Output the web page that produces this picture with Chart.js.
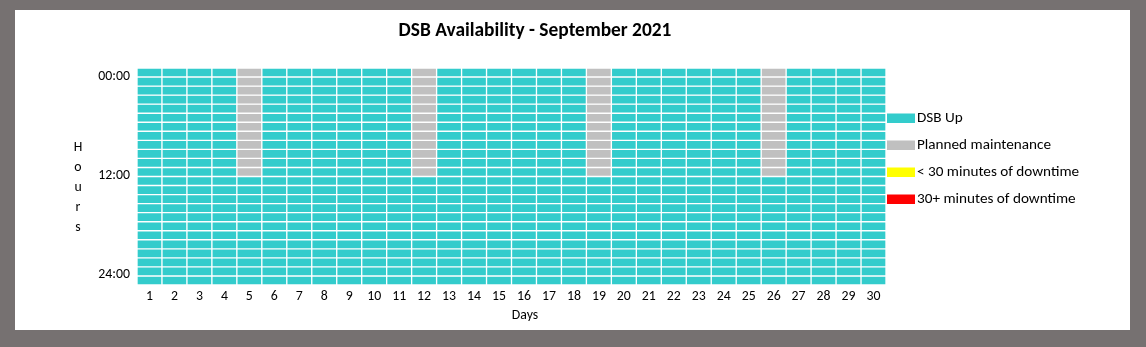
<!DOCTYPE html>
<html><head><meta charset="utf-8">
<script src="https://cdn.jsdelivr.net/npm/chart.js@4.4.0/dist/chart.umd.min.js"></script>
<style>html,body{margin:0;padding:0;background:#767171;overflow:hidden}#wrap{position:absolute;left:0;top:0;width:1146px;height:347px}</style>
</head><body><div id="wrap"><canvas id="c" width="1146" height="347"></canvas></div>
<script>
// ---- data ----
const days = ['1','2','3','4','5','6','7','8','9','10','11','12','13','14','15','16','17','18','19','20','21','22','23','24','25','26','27','28','29','30'];
const hours = [0,1,2,3,4,5,6,7,8,9,10,11,12,13,14,15,16,17,18,19,20,21,22,23];
const maintenanceDays = [5,12,19,26];
const maintenanceStartHour = [0,0,0,0];
const maintenanceEndHour = [12,12,12,12];
const shortDowntime = [];   // [day, hour] pairs: < 30 minutes
const longDowntime = [];    // [day, hour] pairs: 30+ minutes
const yTickLabels = ['00:00','12:00','24:00'];
const yTickValues = [0.9, 11.95, 22.9];
const legendLabels = ['DSB Up','Planned maintenance','< 30 minutes of downtime','30+ minutes of downtime'];
const legendColors = ['#33CCCC','#C0C0C0','#FFFF00','#FF0000'];
const titleText = 'DSB Availability - September 2021';
const xTitle = 'Days';
const yTitle = 'Hours';

// ---- build ----
const FONT = "Carlito, Calibri, Lato, 'Open Sans', sans-serif";
function statusColor(day, hour){
  for (const p of longDowntime) if (p[0]===day && p[1]===hour) return legendColors[3];
  for (const p of shortDowntime) if (p[0]===day && p[1]===hour) return legendColors[2];
  const k = maintenanceDays.indexOf(day);
  if (k>=0 && hour>=maintenanceStartHour[k] && hour<maintenanceEndHour[k]) return legendColors[1];
  return legendColors[0];
}
const datasets = hours.map(h => ({
  label: 'h'+h,
  data: days.map(() => 1),
  backgroundColor: days.map(d => statusColor(+d, h)),
  borderColor: '#FFFFFF',
  borderWidth: 1,
  borderSkipped: false,
  barPercentage: 1,
  categoryPercentage: 1,
  stack: 's'
}));

const decor = {
  id: 'decor',
  beforeDraw(chart){
    const c = chart.ctx;
    c.save();
    c.fillStyle = '#767171'; c.fillRect(0,0,chart.width,chart.height);
    c.fillStyle = '#FFFFFF'; c.fillRect(15,10,1115,320);
    c.restore();
  },
  afterDraw(chart){
    const c = chart.ctx;
    c.save();
    c.fillStyle = '#000';
    c.textBaseline = 'middle';
    c.textAlign = 'center';
    c.font = "bold 19.4px " + FONT;
    c.fillText(titleText, 535, 31);
    c.font = "13.8px " + FONT;
    c.fillText(xTitle, 525, 316);
    yTitle.split('').forEach((ch,i) => c.fillText(ch, 78, 148 + 20*i));
    c.font = "15.2px " + FONT;
    c.textAlign = 'left';
    legendLabels.forEach((t,i) => {
      const y = 118 + 27*i;
      c.fillStyle = legendColors[i];
      c.fillRect(887, y-4.5, 28, 9.5);
      c.fillStyle = '#000';
      c.fillText(t, 917, y);
    });
    c.restore();
  }
};

new Chart(document.getElementById('c'), {
  type: 'bar',
  data: { labels: days, datasets },
  options: {
    responsive: false,
    animation: false,
    devicePixelRatio: 1,
    layout: { padding: { left: 15, top: 68, right: 260, bottom: 17 } },
    plugins: { legend: { display: false }, title: { display: false }, tooltip: { enabled: false } },
    scales: {
      x: {
        stacked: true,
        grid: { display: false, drawTicks: false },
        border: { display: false },
        ticks: { color: '#000', font: { family: FONT, size: 13.8 }, padding: 3, maxRotation: 0, autoSkip: false },
        afterFit(s){ s.height = 45; }
      },
      y: {
        stacked: true,
        reverse: true,
        min: 0, max: 24,
        grid: { display: false, drawTicks: false },
        border: { display: false },
        afterBuildTicks(s){ s.ticks = yTickValues.map(v => ({ value: v })); },
        ticks: { color: '#000', font: { family: FONT, size: 13.8 }, padding: 7,
          callback: (v, i) => yTickLabels[i] },
        afterFit(s){ s.width = 122; }
      }
    }
  },
  plugins: [decor]
});
</script>
</body></html>
